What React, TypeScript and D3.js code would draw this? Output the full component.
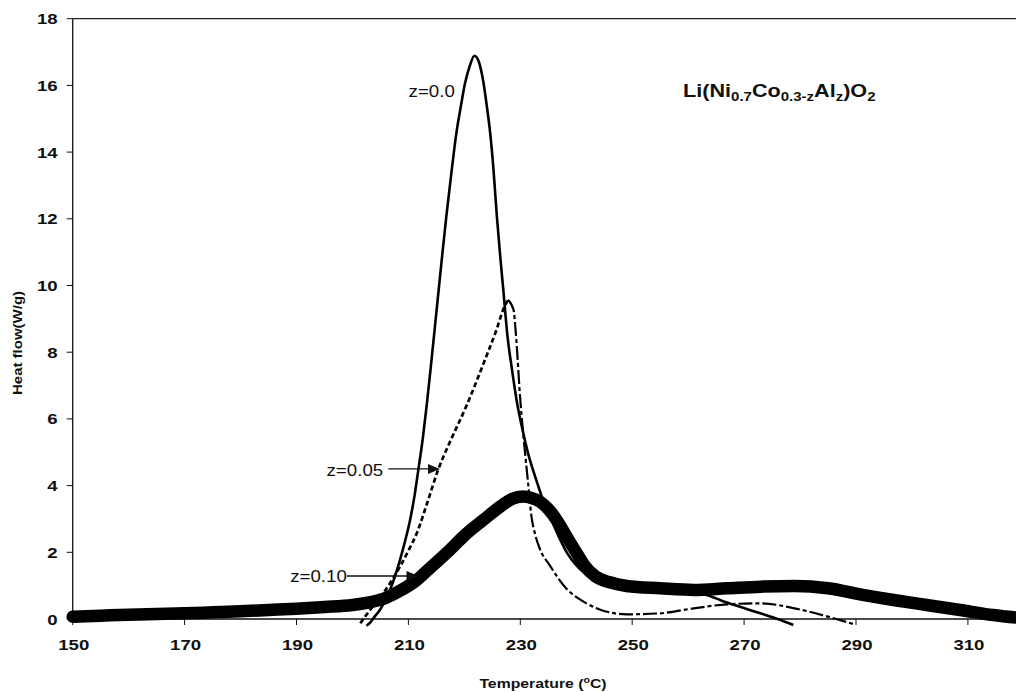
import React from "react";
import * as d3 from "d3";

// ---- data ----
const xTicks = [150, 170, 190, 210, 230, 250, 270, 290, 310];
const yTicks = [0, 2, 4, 6, 8, 10, 12, 14, 16, 18];

const z00T = [202.5, 203.1, 204.0, 204.9, 205.8, 206.7, 207.6, 208.5, 209.4, 210.3, 211.1, 211.8, 212.6, 213.3, 214.0, 214.7, 215.4, 216.1, 216.8, 217.7, 218.6, 219.4, 220.1, 221.0, 221.8, 222.6, 223.4, 224.0, 224.6, 225.2, 225.8, 226.4, 227.0, 227.7, 228.5, 229.4, 230.5, 231.5, 232.6, 234.0, 235.3, 236.8, 238.3, 239.8, 241.3, 242.8, 244.3, 247, 250, 255, 260, 263.3, 266, 269, 272.9, 276, 278.8];
const z00Y = [-0.2, -0.12, 0.08, 0.27, 0.55, 0.87, 1.28, 1.77, 2.33, 2.97, 3.7, 4.5, 5.45, 6.45, 7.55, 8.7, 9.85, 11.0, 12.1, 13.4, 14.6, 15.4, 16.05, 16.6, 16.89, 16.7, 16.1, 15.4, 14.6, 13.5, 12.1, 10.9, 9.8, 8.5, 7.5, 6.5, 5.6, 4.9, 4.3, 3.6, 3.07, 2.5, 2.0, 1.65, 1.4, 1.22, 1.08, 0.98, 0.92, 0.86, 0.8, 0.72, 0.55, 0.38, 0.17, 0.0, -0.18];

const z05T = [201.4, 203.5, 205.5, 207.0, 208.5, 210.0, 211.5, 213.4, 215.3, 217.4, 220.4, 223.4, 225.8, 227.0, 227.8, 228.8, 229.2, 230.0, 230.8, 231.4, 232.0, 232.6, 233.5, 235.3, 238.3, 241.3, 244.3, 249, 255, 261, 267, 273, 279, 285, 289.5];
const z05Y = [-0.13, 0.35, 0.77, 1.15, 1.57, 2.05, 2.57, 3.5, 4.47, 5.3, 6.4, 7.65, 8.7, 9.3, 9.57, 9.27, 8.57, 6.57, 5.07, 4.07, 3.07, 2.57, 2.1, 1.6, 0.9, 0.52, 0.28, 0.14, 0.17, 0.32, 0.44, 0.47, 0.32, 0.07, -0.15];
const z05PeakT = 227.8;

const z10T = [150, 155, 160, 165, 170, 175, 180, 185, 190, 195, 200, 203, 205.5, 208, 211.5, 214, 217.4, 220, 223.4, 226.4, 228.5, 230.5, 232, 233.5, 235, 236.5, 238, 240.1, 241.5, 243.5, 246, 249, 255, 261, 267, 273, 279, 285, 290.7, 296.7, 302.6, 308.6, 314.5, 320];
const z10Y = [0.07, 0.1, 0.13, 0.15, 0.17, 0.2, 0.23, 0.27, 0.31, 0.36, 0.42, 0.5, 0.6, 0.8, 1.17, 1.55, 2.07, 2.5, 2.97, 3.37, 3.6, 3.67, 3.63, 3.52, 3.3, 2.97, 2.55, 1.97, 1.6, 1.27, 1.1, 0.99, 0.92, 0.87, 0.92, 0.97, 0.99, 0.92, 0.74, 0.57, 0.42, 0.27, 0.12, 0.02];

const labels = [
  { text: "z=0.0", T: 218.3, Y: 15.65 },
  { text: "z=0.05", T: 205.5, Y: 4.3 },
  { text: "z=0.10", T: 199.0, Y: 1.1 },
];
const arrows = [
  { T0: 206.4, T1: 215.65, Y: 4.5 },
  { T0: 199.0, T1: 211.8, Y: 1.29 },
];
const titleT = 259.1;
const titleY = 15.65;

const W = 1016;
const H = 692;
const FONT = "'Liberation Sans', Arial, Helvetica, sans-serif";

export default function App() {
  const x = d3.scaleLinear().domain([150, 320]).range([72.7, 72.7 + 170 * 5.595]);
  const y = d3.scaleLinear().domain([0, 18]).range([619, 18.7]);

  const line = d3
    .line<[number, number]>()
    .x((d) => x(d[0]))
    .y((d) => y(d[1]))
    .curve(d3.curveMonotoneX);

  const zip = (a: number[], b: number[]) => a.map((t, i) => [t, b[i]] as [number, number]);
  const s00 = zip(z00T, z00Y);
  const s05 = zip(z05T, z05Y);
  const s05rise = s05.filter((d) => d[0] <= z05PeakT);
  const s05fall = s05.filter((d) => d[0] >= z05PeakT);
  const s10 = zip(z10T, z10Y);

  const x0 = x(150);
  const y0 = y(0);
  const yTop = y(18);
  const sx = 1.2;

  return (
    <div style={{ position: "absolute", left: 0, top: 0 }}>
      <svg width={W} height={H} style={{ display: "block", background: "#fff" }} fontFamily={FONT}>
        {/* frame */}
        <line x1={x0} x2={W} y1={yTop} y2={yTop} stroke="#222" strokeWidth={1.2} />
        <line x1={x0} x2={x0} y1={yTop} y2={y0} stroke="#111" strokeWidth={1.3} />
        <line x1={x0} x2={W} y1={y0} y2={y0} stroke="#111" strokeWidth={1.3} />

        {/* y ticks */}
        {yTicks.map((t) => (
          <g key={"y" + t}>
            <line x1={x0 - 6} x2={x0} y1={y(t)} y2={y(t)} stroke="#111" strokeWidth={1} />
            <text
              transform={`translate(${x0 - 15},${y(t) + 5.5}) scale(${sx},1)`}
              textAnchor="end"
              fontSize={15.5}
              fontWeight="bold"
              fill="#111"
            >
              {t}
            </text>
          </g>
        ))}

        {/* x ticks */}
        {xTicks.map((t) => (
          <g key={"x" + t}>
            <line x1={x(t)} x2={x(t)} y1={y0} y2={y0 + 6} stroke="#111" strokeWidth={1} />
            <text
              transform={`translate(${x(t) + 1},${y0 + 31}) scale(${sx},1)`}
              textAnchor="middle"
              fontSize={15.5}
              fontWeight="bold"
              fill="#111"
            >
              {t}
            </text>
          </g>
        ))}

        {/* axis titles */}
        <text
          transform={`translate(543,688) scale(1.17,1)`}
          textAnchor="middle"
          fontSize={13.5}
          fontWeight="bold"
          fill="#111"
        >
          Temperature (
          <tspan fontSize={9} dy={-5}>
            o
          </tspan>
          <tspan dy={5}>C)</tspan>
        </text>
        <text
          transform={`translate(22,343) rotate(-90) scale(1.2,1)`}
          textAnchor="middle"
          fontSize={12.5}
          fontWeight="bold"
          fill="#111"
        >
          Heat flow(W/g)
        </text>

        {/* series */}
        <path d={line(s00) || ""} fill="none" stroke="#000" strokeWidth={2.6} strokeLinejoin="round" />
        <path d={line(s05rise) || ""} fill="none" stroke="#000" strokeWidth={2.7} strokeDasharray="5,3" />
        <path d={line(s05fall) || ""} fill="none" stroke="#000" strokeWidth={2.2} strokeDasharray="14,3,4,3" />
        <path
          d={line(s10) || ""}
          fill="none"
          stroke="#000"
          strokeWidth={12.5}
          strokeLinecap="round"
          strokeLinejoin="round"
        />

        {/* labels */}
        {labels.map((l) => (
          <text
            key={l.text}
            transform={`translate(${x(l.T)},${y(l.Y)}) scale(1.17,1)`}
            textAnchor="end"
            fontSize={16}
            fill="#111"
          >
            {l.text}
          </text>
        ))}
        {arrows.map((a, i) => {
          const xe = x(a.T1);
          const ye = y(a.Y);
          return (
            <g key={"a" + i}>
              <line x1={x(a.T0)} x2={xe - 10} y1={ye} y2={ye} stroke="#111" strokeWidth={1.3} />
              <polygon points={`${xe},${ye} ${xe - 12},${ye - 5} ${xe - 12},${ye + 5}`} fill="#111" />
            </g>
          );
        })}

        {/* compound title */}
        <text
          transform={`translate(${x(titleT)},${y(titleY)}) scale(1.2,1)`}
          fontSize={18}
          fontWeight="bold"
          fill="#111"
        >
          Li(Ni
          <tspan fontSize={12.5} dy={4}>0.7</tspan>
          <tspan dy={-4}>Co</tspan>
          <tspan fontSize={12.5} dy={4}>0.3-z</tspan>
          <tspan dy={-4}>Al</tspan>
          <tspan fontSize={12.5} dy={4}>z</tspan>
          <tspan dy={-4}>)O</tspan>
          <tspan fontSize={12.5} dy={4}>2</tspan>
        </text>
      </svg>
    </div>
  );
}
